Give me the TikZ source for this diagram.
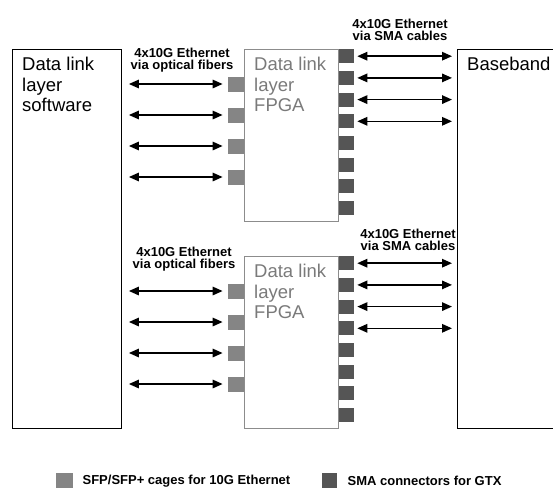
\documentclass[tikz,border=0pt]{standalone}
\usepackage{fontspec}
\setmainfont{Liberation Sans}
\usepackage{tikz}
\usetikzlibrary{arrows.meta,positioning}
\definecolor{sfpgray}{HTML}{858585}
\definecolor{smagray}{HTML}{555555}
\definecolor{fpgaline}{HTML}{8C8C8C}
\definecolor{fpgatext}{HTML}{7A7A7A}
\tikzset{
  unit/.style={draw=black,line width=0.9pt,inner sep=0pt,anchor=north west},
  fpga/.style={unit,draw=fpgaline,minimum width=94pt,minimum height=172pt},
  title/.style={inner sep=0pt,align=left,font=\fontsize{18.5}{20.5}\selectfont},
  sfp/.style={fill=sfpgray,inner sep=0pt,minimum width=16pt,minimum height=15pt},
  sma/.style={fill=smagray,inner sep=0pt,minimum width=15pt,minimum height=14pt},
  link/.style={{Triangle[length=10pt,width=8.5pt]}-{Triangle[length=10pt,width=8.5pt]},line width=1.5pt},
  note/.style={inner sep=0pt,align=center,font=\bfseries\fontsize{13}{11.5}\selectfont},
  key/.style={inner sep=0pt,anchor=west,font=\bfseries\fontsize{13}{13}\selectfont}
}

\begin{document}
\begin{tikzpicture}[x=1pt,y=-1pt]
\useasboundingbox (0,0) rectangle (553,490);
% boxes
\node[unit,minimum width=109pt,minimum height=379pt] (sw) at (12,49) {};
\node[unit,minimum width=120pt,minimum height=379pt] (bb) at (457,49) {};
\node[fpga] (fa) at (244,49) {};
\node[fpga] (fb) at (244,256) {};
\node[title,below right=8pt and 10pt of sw.north west] (swt) {Data link\\layer\\software};
\node[title,below right=8pt and 10pt of bb.north west] (bbt) {Baseband};
\node[title,text=fpgatext,below right=8pt and 10pt of fa.north west] (fat) {Data link\\layer\\FPGA};
\node[title,text=fpgatext,below right=8pt and 10pt of fb.north west] (fbt) {Data link\\layer\\FPGA};
% ports and links
\foreach \fp in {fa,fb} {
  \foreach \i [evaluate=\i as \dy using 35+31*(\i-1)] in {1,...,4}
    \node[sfp,anchor=east] (\fp-s\i) at ([yshift=-\dy pt]\fp.north west) {};
  \foreach \i [evaluate=\i as \dy using 21.7*(\i-1)] in {1,...,8}
    \node[sma,anchor=north west] (\fp-m\i) at ([yshift=-\dy pt]\fp.north east) {};
  \foreach \i in {1,...,4} {
    \draw[link] ([xshift=7pt]sw.east |- \fp-s\i.west) -- ([xshift=-5pt]\fp-s\i.west);
    \draw[link] ([xshift=3pt]\fp-m\i.east) -- ([xshift=-5pt]bb.west |- \fp-m\i.east);
  }
}
\node[note] (la) at (182,60) {4x10G Ethernet\\via optical fibers};
\node[note] (lb) at (184,259) {4x10G Ethernet\\via optical fibers};
\node[note] (ra) at (400,30) {4x10G Ethernet\\via SMA cables};
\node[note] (rb) at (408,240) {4x10G Ethernet\\via SMA cables};
% legend
\node[sfp,minimum width=17pt,anchor=north west] (ksfp) at (56,473) {};
\node[key,right=9pt of ksfp] (ksfpt) {SFP/SFP+ cages for 10G Ethernet};
\node[sma,minimum height=15pt,anchor=north west] (ksma) at (322,473) {};
\node[key,right=10pt of ksma] (ksmat) {SMA connectors for GTX};
\end{tikzpicture}
\end{document}
